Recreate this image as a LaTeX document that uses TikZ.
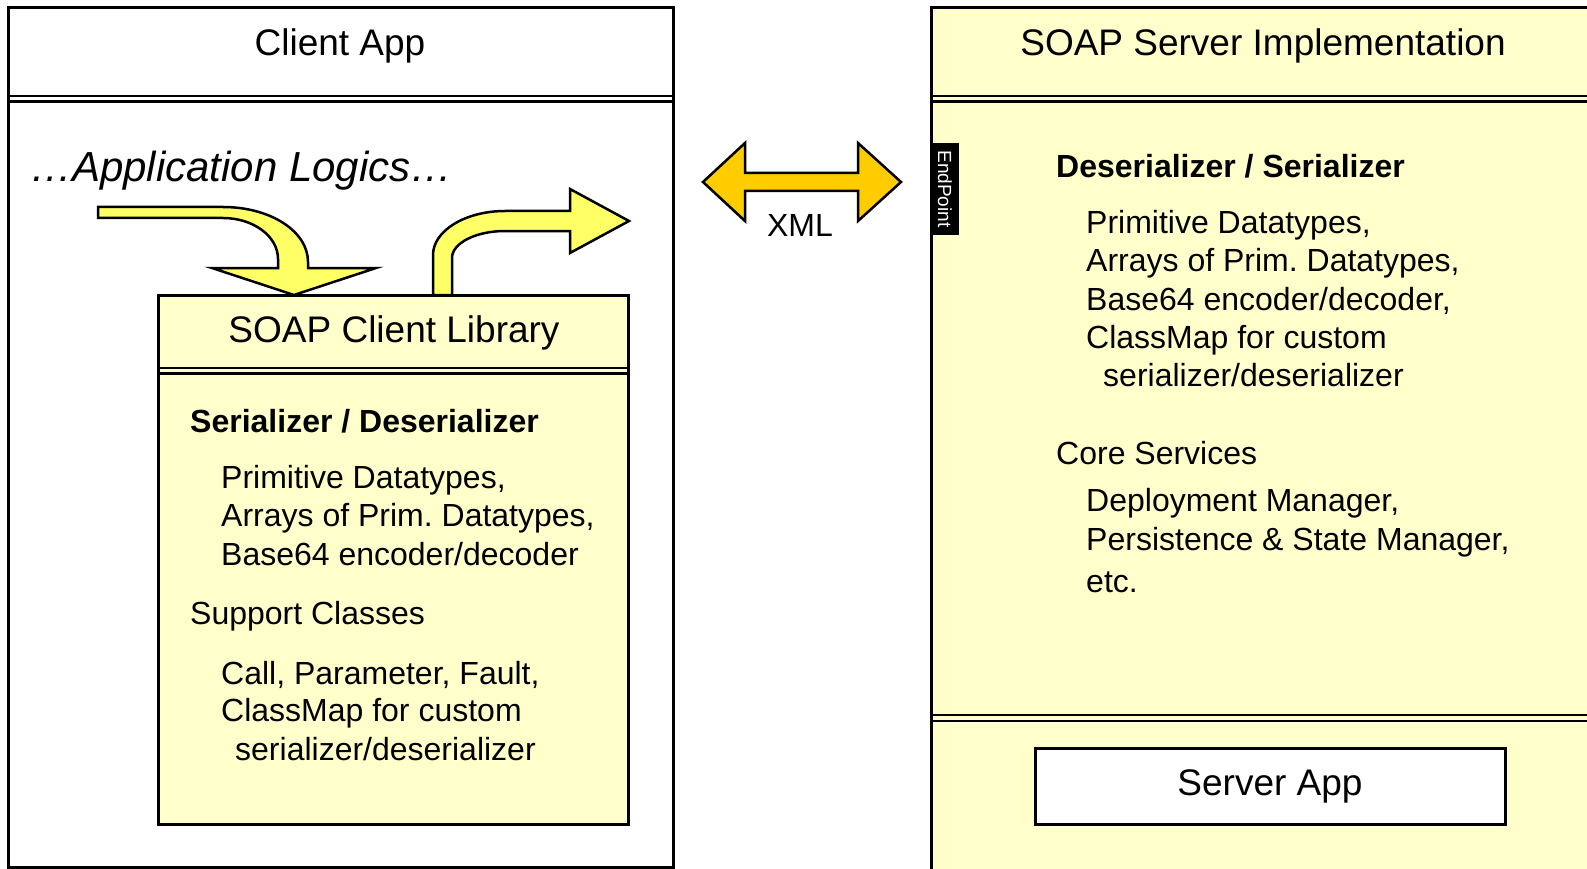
\documentclass[tikz,border=0pt]{standalone}
\usepackage{fontspec}
\setmainfont{Liberation Sans}
\frenchspacing
\definecolor{paleyellow}{HTML}{FFFFCC}
\definecolor{flowyellow}{HTML}{FFFF66}
\definecolor{xmlgold}{HTML}{FFCC00}
\begin{document}
\begin{tikzpicture}[x=1pt,y=-1pt,
  frame/.style={draw=black,line width=3pt},
  sep/.style={draw=black,line width=2.5pt},
  blockarrow/.style={draw=black,line width=2.5pt,line join=miter},
  title/.style={font=\fontsize{37}{44}\selectfont,anchor=base,inner sep=0pt},
  body/.style={font=\fontsize{32}{38}\selectfont,anchor=base west,inner sep=0pt},
  head/.style={body,font=\fontsize{32}{38}\selectfont\bfseries},
]
\useasboundingbox (0,0) rectangle (1587,869);

% ---------- client application ----------
\draw[frame,fill=white] (8,8) rectangle (673,867.5);
\draw[sep] (8,96) -- (673,96);
\draw[sep] (8,101.5) -- (673,101.5);
\node[title] (clientapp) at (340,56) {Client App};
\node[anchor=base west,inner sep=0pt,font=\fontsize{42}{50}\selectfont\itshape]
  (logic) at (30,182) {…Application Logics…};

% ---------- client library ----------
\draw[frame,fill=paleyellow] (158,295) rectangle (628,824);
\draw[sep] (158,368) -- (628,368);
\draw[sep] (158,373.5) -- (628,373.5);
\node[title] (clientlib) at (394,342) {SOAP Client Library};
\node[head] (cser) at (190,432.5) {Serializer / Deserializer};
\node[body] (c1) at (221,488.5) {Primitive Datatypes,};
\node[body] (c2) at (221,526.5) {Arrays of Prim. Datatypes,};
\node[body] (c3) at (221,565.5) {Base64 encoder/decoder};
\node[body] (csup) at (190,624.5) {Support Classes};
\node[body] (c4) at (221,684.5) {Call, Parameter, Fault,};
\node[body] (c5) at (221,721.5) {ClassMap for custom};
\node[body] (c6) at (235,760.5) {serializer/deserializer};

% ---------- request / response flow ----------
\draw[blockarrow,fill=flowyellow]
  (98,207) -- (223,207) .. controls (270,207) and (308,231) .. (308,262)
  -- (308,268) -- (376,268) -- (294,295) -- (212,268) -- (278,268)
  -- (278,259) .. controls (278,236) and (253,218) .. (223,218)
  -- (98,218) -- cycle;
\draw[blockarrow,fill=flowyellow]
  (433,295) -- (433,255) .. controls (433,231) and (465,211) .. (505,211)
  -- (570,211) -- (570,189) -- (629,221) -- (570,253) -- (570,231)
  -- (505,231) .. controls (476,231) and (452,243) .. (452,258)
  -- (452,295) -- cycle;

% ---------- XML exchange ----------
\draw[blockarrow,fill=xmlgold]
  (703,182) -- (745,143) -- (745,173) -- (858,173) -- (858,143)
  -- (901,182) -- (858,221) -- (858,191) -- (745,191) -- (745,221) -- cycle;
\node[anchor=base,inner sep=0pt,font=\fontsize{32}{38}\selectfont]
  (xml) at (800,236.5) {XML};

% ---------- server implementation ----------
\draw[frame,fill=paleyellow] (931,8) rectangle (1600,880);
\draw[sep] (931,96) -- (1600,96);
\draw[sep] (931,101.5) -- (1600,101.5);
\draw[sep] (931,715) -- (1600,715);
\draw[sep] (931,721) -- (1600,721);
\node[title] (serverimpl) at (1263,56) {SOAP Server Implementation};

\fill[black] (930,143) rectangle (959,235);
\node[text=white,rotate=-90,inner sep=0pt,font=\fontsize{19}{22}\selectfont]
  (endpoint) at (945,189) {EndPoint};

\node[head] (sser) at (1056,177.5) {Deserializer / Serializer};
\node[body] (s1) at (1086,233.5) {Primitive Datatypes,};
\node[body] (s2) at (1086,271.5) {Arrays of Prim. Datatypes,};
\node[body] (s3) at (1086,310.5) {Base64 encoder/decoder,};
\node[body] (s4) at (1086,348.5) {ClassMap for custom};
\node[body] (s5) at (1103,386.5) {serializer/deserializer};
\node[body] (score) at (1056,464.5) {Core Services};
\node[body] (s6) at (1086,511.5) {Deployment Manager,};
\node[body] (s7) at (1086,550.5) {Persistence \& State Manager,};
\node[body] (s8) at (1086,592.5) {etc.};

\draw[frame,fill=white] (1035,748) rectangle (1505,824);
\node[title] (serverapp) at (1270,795) {Server App};
\end{tikzpicture}
\end{document}
